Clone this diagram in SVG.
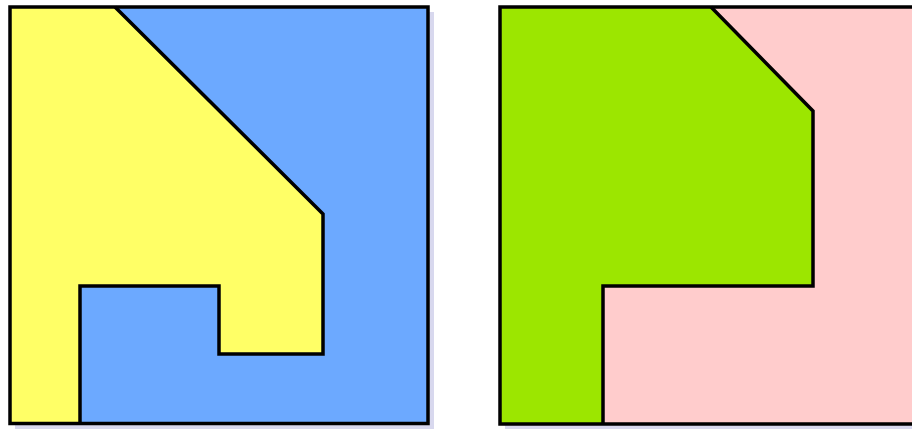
<svg xmlns="http://www.w3.org/2000/svg" width="912" height="429" viewBox="0 0 912 429">
<style>
.o{stroke:#000;stroke-width:3.5;stroke-linejoin:miter;fill:none}
.s{fill:#d8d8ee}
</style>
<rect width="912" height="429" fill="#fff"/>
<g id="left">
<rect class="s" x="15" y="12" width="419" height="417"/>
<rect x="10" y="7" width="418" height="416.5" fill="#6ca9ff"/>
<polygon points="10,7 115,7 323,214 323,354 219,354 219,286 80,286 80,423.5 10,423.5" fill="#ffff66"/>
<polyline class="o" points="115,7 323,214 323,354 219,354 219,286 80,286 80,423.5"/>
<rect class="o" x="10" y="7" width="418" height="416.5"/>
</g>
<g id="right">
<rect class="s" x="505" y="12" width="420" height="417"/>
<rect x="500" y="7" width="420" height="417" fill="#ffcccc"/>
<polygon points="500,7 711,7 813,111 813,286 603,286 603,424 500,424" fill="#9ce600"/>
<polyline class="o" points="711,7 813,111 813,286 603,286 603,424"/>
<rect class="o" x="500" y="7" width="420" height="417"/>
</g>
</svg>
